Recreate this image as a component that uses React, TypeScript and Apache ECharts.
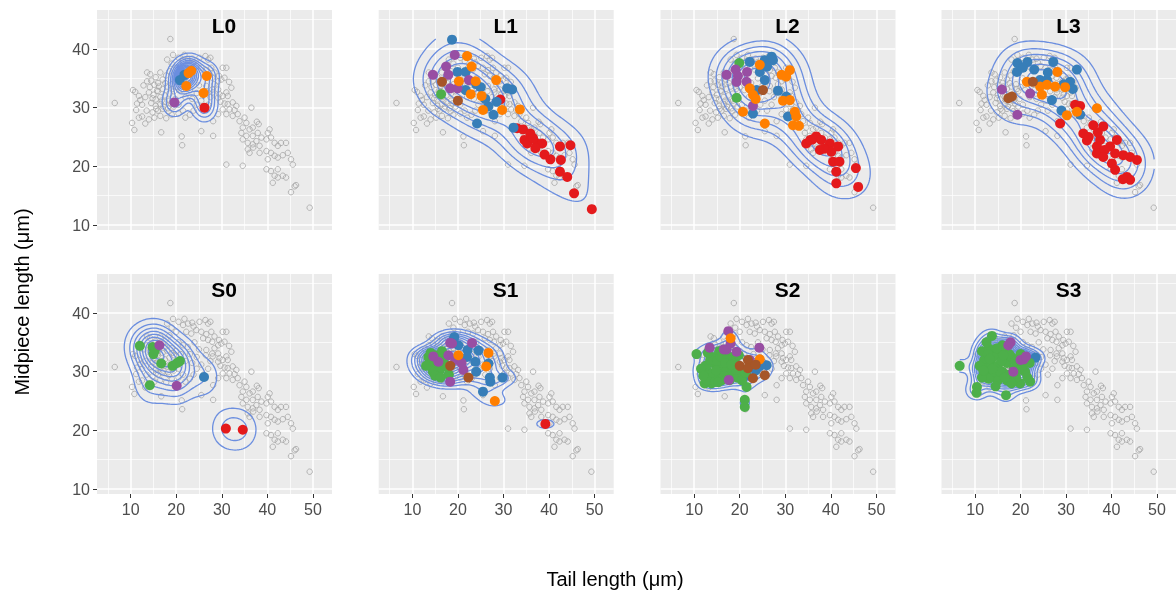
import React, { useEffect, useRef } from 'react';
import * as echarts from 'echarts';

// ---------- labels & scales ----------
const panelNames = ['L0', 'L1', 'L2', 'L3', 'S0', 'S1', 'S2', 'S3'];
const groupNames = ['Group 1', 'Group 2', 'Group 3', 'Group 4', 'Group 5', 'Group 6'];
const groupColors = ['#E41A1C', '#377EB8', '#4DAF4A', '#984EA3', '#FF7F00', '#A65628'];
const xTicks = [10, 20, 30, 40, 50];
const xMinorTicks = [5, 15, 25, 35, 45];
const yTicks = [10, 20, 30, 40];
const yMinorTicks = [15, 25, 35, 45];
const xTitle = 'Tail length (μm)';
const yTitle = 'Midpiece length (μm)';

// ---------- background points (all specimens) ----------
const greyPoints: number[][] = [
  [6.5, 30.8], [10.5, 33.0], [11.0, 32.7], [11.8, 32.0], [12.1, 31.3], [13.2, 31.8], [11.4, 30.7], [12.5, 30.5], [11.2, 29.6], [10.3, 27.4], [10.8, 26.2],
  [13.6, 36.0], [14.3, 35.7], [13.6, 34.5], [14.5, 34.6], [12.8, 33.8], [14.2, 33.5], [15.2, 33.9], [16.0, 34.2], [17.0, 34.8], [15.5, 35.2], [16.5, 36.0],
  [17.8, 35.5], [18.5, 36.2], [19.3, 39.0], [18.7, 41.7], [14.0, 32.6], [15.0, 32.2], [16.0, 32.8], [17.0, 33.2], [18.0, 33.6], [19.0, 34.0], [15.5, 31.4],
  [16.5, 31.8], [17.5, 32.1], [18.5, 32.4], [19.5, 32.8], [14.5, 30.8], [15.5, 30.3], [16.5, 30.6], [17.5, 31.0], [18.5, 31.2], [19.8, 31.5], [13.5, 29.5],
  [14.8, 29.2], [16.0, 29.5], [17.0, 29.8], [18.2, 29.9], [19.5, 30.2], [20.5, 30.5], [12.5, 28.5], [14.0, 28.0], [15.2, 28.3], [16.5, 28.6], [17.8, 28.2],
  [19.0, 28.8], [20.5, 29.0], [21.5, 29.5], [16.7, 25.8], [21.2, 25.1], [21.3, 23.6], [13.2, 27.3], [11.8, 28.3], [22.0, 28.3], [23.0, 28.8], [20.0, 33.5],
  [21.0, 33.0], [20.5, 35.0], [21.5, 34.5], [22.5, 34.2], [23.0, 33.0], [22.0, 31.8], [23.5, 31.5], [24.5, 32.5], [25.0, 33.8], [24.0, 35.0], [20.0, 36.8],
  [19.0, 37.5], [18.0, 38.2], [20.5, 38.5], [24.5, 30.5], [25.5, 31.2], [26.0, 29.5], [23.8, 29.5], [27.0, 30.5], [27.5, 31.8], [26.5, 32.8], [28.0, 32.6],
  [15.8, 32.9], [16.8, 31.2], [17.2, 30.2], [18.8, 30.7], [14.8, 31.6], [16.2, 33.6], [17.6, 34.2], [19.2, 33.2], [15.6, 29.8], [18.4, 29.4],
  [21.8, 39.0], [21.5, 37.95], [22.6, 38.2], [23.5, 38.35], [23.8, 37.7], [25.1, 38.5], [26.4, 38.8], [27.0, 38.2], [27.5, 38.5],
  [22.2, 36.8], [23.3, 36.5], [24.4, 37.1], [25.5, 36.8], [26.6, 36.4], [27.7, 36.8], [28.4, 36.0], [29.4, 35.4], [30.2, 36.8], [31.0, 36.8],
  [25.9, 35.7], [27.0, 35.4], [27.9, 35.1], [29.2, 34.5], [29.9, 34.8], [30.6, 35.1], [31.6, 34.4], [28.4, 34.0],
  [26.6, 33.7], [27.9, 33.1], [29.2, 33.1], [29.5, 32.3], [30.2, 32.0], [31.0, 32.6], [31.3, 32.0], [32.1, 33.4], [29.2, 31.7],
  [29.7, 31.0], [30.6, 30.7], [31.3, 30.6], [32.4, 30.9], [33.2, 30.3], [31.7, 29.7], [30.2, 29.7], [32.8, 29.6], [36.5, 30.0],
  [29.2, 28.9], [31.0, 28.9], [32.4, 28.6], [33.5, 28.9], [33.9, 27.7], [35.0, 28.3], [35.4, 27.4], [37.7, 27.6], [38.1, 27.2], [28.1, 27.7], [25.5, 26.0], [28.1, 25.2],
  [34.6, 26.6], [36.1, 26.3], [36.8, 26.6], [37.9, 25.7], [34.3, 25.7], [35.4, 25.2], [36.8, 25.2], [40.5, 26.3], [40.1, 25.7], [38.7, 24.9],
  [34.6, 24.6], [35.7, 24.0], [36.8, 23.75], [37.6, 24.3], [38.3, 23.5], [39.8, 24.6], [40.8, 24.9], [41.6, 24.0], [42.3, 23.5], [43.0, 24.0], [44.1, 24.0],
  [36.9, 23.2], [36.1, 22.3], [35.7, 22.9], [38.3, 22.3], [39.8, 22.6], [40.8, 22.3], [41.6, 21.8], [42.3, 21.5], [43.4, 21.9], [44.5, 22.3], [45.2, 21.2],
  [40.1, 21.2], [45.6, 20.3], [34.6, 20.1], [31.0, 20.3], [39.8, 19.5], [40.8, 19.2], [42.3, 19.5], [41.6, 18.4], [42.3, 18.1], [43.4, 18.4], [44.1, 18.1],
  [41.2, 17.2], [46.0, 16.6], [46.3, 16.8], [45.2, 15.6], [49.3, 12.95],
];

// ---------- coloured points per panel: [tail, midpiece, group] ----------
// group: 0 red, 1 blue, 2 green, 3 purple, 4 orange, 5 brown
const L0_points: number[][] = [
  [22.7, 35.9, 4], [23.3, 36.3, 4], [20.8, 34.7, 1], [21.8, 35.6, 1], [22.2, 33.7, 4], [26.7, 35.4, 4], [26.0, 32.5, 4], [19.6, 30.9, 3], [26.2, 30.0, 0],
];
const L1_points: number[][] = [
  [18.7, 41.6, 1], [19.9, 36.1, 1], [21.7, 36.1, 1], [25.0, 33.5, 1], [21.7, 33.0, 1], [30.8, 33.3, 1], [31.9, 33.1, 1], [26.7, 30.2, 1], [27.8, 28.8, 1],
  [24.2, 27.3, 1], [32.2, 26.6, 1], [24.0, 34.0, 1], [26.0, 31.5, 1], [28.5, 31.0, 1],
  [19.3, 39.0, 3], [17.4, 37.0, 3], [14.5, 35.6, 3], [18.3, 33.3, 3], [17.9, 35.6, 3], [19.9, 33.3, 3], [22.4, 34.7, 3],
  [22.0, 38.8, 4], [20.2, 34.5, 4], [23.0, 37.0, 4], [23.9, 34.5, 4], [22.8, 32.3, 4], [25.2, 32.0, 4], [28.4, 34.7, 4], [29.7, 29.6, 4], [25.5, 29.6, 4], [33.6, 29.7, 4],
  [16.5, 34.4, 5], [20.0, 31.2, 5], [16.3, 32.3, 2],
  [29.3, 31.4, 0], [34.3, 26.3, 0], [33.0, 26.5, 0], [34.6, 24.5, 0], [35.9, 25.6, 0], [37.4, 23.9, 0], [38.5, 23.9, 0], [37.0, 23.1, 0], [35.2, 23.9, 0],
  [40.3, 21.2, 0], [42.4, 23.4, 0], [44.7, 23.6, 0], [42.6, 21.1, 0], [42.4, 19.1, 0], [44.0, 18.2, 0], [45.5, 15.4, 0], [49.4, 12.7, 0], [36.5, 24.8, 0], [39.0, 22.0, 0],
];
const L2_points: number[][] = [
  [19.9, 37.6, 2], [19.3, 31.7, 2],
  [19.1, 36.5, 3], [17.1, 35.6, 3], [19.6, 35.4, 3], [21.6, 36.1, 3], [19.3, 34.4, 3], [21.5, 34.4, 3], [22.9, 30.3, 3],
  [22.2, 37.8, 1], [25.5, 38.1, 1], [27.0, 38.7, 1], [27.3, 38.1, 1], [24.4, 36.1, 1], [25.5, 34.7, 1], [23.7, 33.0, 1], [28.4, 32.9, 1], [30.2, 31.9, 1],
  [22.9, 29.0, 1], [30.6, 28.5, 1], [26.0, 37.0, 1],
  [24.4, 37.3, 4], [29.2, 35.6, 4], [31.0, 36.4, 4], [30.2, 35.3, 4], [22.2, 33.3, 4], [22.9, 32.2, 4], [29.5, 31.2, 4], [31.0, 31.3, 4], [32.1, 29.3, 4],
  [20.7, 29.3, 4], [25.5, 27.3, 4], [32.4, 28.5, 4], [31.7, 27.0, 4], [33.0, 26.9, 4], [23.5, 31.5, 4],
  [25.1, 33.0, 5],
  [34.6, 23.9, 0], [36.8, 25.1, 0], [36.0, 24.6, 0], [37.9, 24.5, 0], [37.6, 22.8, 0], [39.8, 23.9, 0], [41.6, 23.4, 0], [40.1, 22.5, 0], [40.5, 20.8, 0],
  [41.9, 20.8, 0], [41.2, 19.1, 0], [45.5, 19.7, 0], [41.2, 17.1, 0], [46.0, 16.5, 0], [38.5, 23.0, 0], [35.5, 24.5, 0],
];
const L3_points: number[][] = [
  [19.3, 37.6, 1], [21.5, 37.8, 1], [27.2, 37.8, 1], [32.4, 36.5, 1], [24.3, 34.7, 1], [25.8, 34.7, 1], [19.2, 36.1, 1], [30.9, 34.4, 1], [31.5, 33.2, 1],
  [26.9, 31.3, 1], [33.1, 28.8, 1], [29.0, 29.5, 1], [23.0, 36.5, 1], [29.5, 34.0, 1], [20.5, 36.8, 1], [26.0, 36.0, 1],
  [28.1, 36.1, 4], [21.4, 34.4, 4], [24.3, 33.6, 4], [25.8, 33.9, 4], [27.6, 33.6, 4], [29.8, 33.5, 4], [36.8, 29.9, 4], [32.4, 29.3, 4], [30.2, 28.7, 4], [24.7, 32.2, 4],
  [22.7, 34.4, 5], [17.3, 31.6, 5], [18.1, 31.9, 5],
  [15.9, 33.1, 3], [22.1, 32.4, 3], [19.3, 28.8, 3],
  [33.1, 30.3, 0], [28.7, 27.3, 0], [32.0, 30.5, 0], [33.8, 25.6, 0], [36.0, 27.0, 0], [38.2, 26.8, 0], [34.6, 24.4, 0], [36.8, 23.4, 0], [37.5, 24.5, 0],
  [39.7, 23.4, 0], [41.2, 24.5, 0], [36.8, 22.2, 0], [38.5, 22.8, 0], [38.2, 21.6, 0], [40.8, 22.2, 0], [42.6, 21.9, 0], [44.1, 21.6, 0], [45.6, 21.1, 0],
  [40.1, 20.5, 0], [40.8, 19.4, 0], [43.4, 18.2, 0], [44.1, 17.7, 0], [42.5, 17.8, 0], [35.0, 25.0, 0], [37.0, 25.8, 0],
];
const S0_points: number[][] = [
  [12.0, 34.4, 2], [14.8, 34.2, 2], [15.3, 33.6, 2], [16.7, 31.4, 2], [19.2, 31.0, 2], [20.2, 31.5, 2], [20.8, 31.8, 2], [14.2, 27.7, 2], [15.0, 33.0, 2],
  [16.3, 34.5, 3], [20.1, 27.6, 3], [26.1, 29.1, 1], [30.9, 20.3, 0], [34.6, 20.1, 0],
];
const S1_points: number[][] = [
  [13.5, 32.5, 2], [14.2, 31.5, 2], [15.0, 32.8, 2], [15.5, 31.0, 2], [16.0, 30.2, 2], [14.5, 30.0, 2], [16.8, 32.0, 2], [17.5, 30.8, 2], [18.0, 29.5, 2],
  [13.0, 31.0, 2], [16.5, 33.5, 2], [15.0, 29.3, 2], [14.0, 33.2, 2], [16.2, 29.0, 2],
  [14.6, 32.6, 3], [15.7, 31.7, 3], [17.9, 32.8, 3], [19.4, 32.0, 3], [21.2, 30.3, 3], [18.3, 28.3, 3], [18.7, 34.8, 3], [18.3, 34.9, 3], [23.1, 34.9, 3], [20.8, 31.5, 3],
  [18.3, 31.0, 5], [22.3, 29.0, 5],
  [20.1, 32.8, 4], [26.7, 33.2, 4], [26.2, 30.9, 4], [28.1, 25.0, 4],
  [19.2, 35.9, 1], [20.1, 34.5, 1], [22.1, 33.7, 1], [24.5, 33.6, 1], [23.8, 31.7, 1], [26.7, 31.4, 1], [27.1, 28.3, 1], [25.5, 26.6, 1], [29.8, 29.0, 1],
  [19.0, 35.4, 1], [20.5, 32.0, 1], [27.0, 29.0, 1], [24.0, 30.0, 1], [22.0, 32.5, 1],
  [39.2, 21.1, 0],
];
const S2_points: number[][] = [
  [10.5, 33.0, 2], [12.3, 28.0, 2], [13.8, 28.0, 2], [21.1, 25.2, 2], [21.1, 24.0, 2], [21.5, 27.4, 2], [14.0, 31.5, 2], [14.5, 32.5, 2], [15.0, 30.5, 2],
  [15.5, 29.5, 2], [16.0, 31.0, 2], [16.5, 32.0, 2], [17.0, 30.0, 2], [17.5, 31.5, 2], [18.0, 29.5, 2], [18.5, 30.5, 2], [19.0, 31.5, 2], [19.5, 29.0, 2],
  [13.0, 30.0, 2], [12.5, 31.0, 2], [14.0, 29.0, 2], [16.0, 28.5, 2], [17.0, 33.0, 2], [15.5, 33.5, 2], [18.5, 32.5, 2], [20.0, 30.0, 2], [20.5, 28.5, 2],
  [13.5, 32.0, 2], [16.5, 29.3, 2], [15.0, 31.8, 2], [17.8, 28.6, 2], [12.8, 28.5, 2], [14.6, 28.3, 2], [11.5, 30.5, 2], [13.0, 33.2, 2], [15.8, 32.6, 2],
  [17.2, 32.3, 2], [19.8, 32.8, 2], [19.2, 30.3, 2], [16.8, 31.5, 2], [14.8, 30.2, 2], [18.2, 31.2, 2], [21.3, 29.8, 2], [12.0, 29.3, 2], [15.3, 28.2, 2],
  [17.5, 36.9, 3], [13.4, 34.1, 3], [24.3, 34.1, 3], [17.1, 33.8, 3], [19.3, 33.4, 3], [17.6, 28.6, 3], [22.2, 32.0, 3], [18.0, 34.8, 3], [16.5, 33.8, 3],
  [18.0, 35.7, 4], [24.4, 32.1, 4],
  [21.8, 32.0, 5], [20.0, 31.0, 5], [22.9, 28.9, 5], [25.5, 29.4, 5], [21.8, 30.6, 5], [23.5, 31.2, 5],
  [25.9, 31.1, 1], [21.5, 29.4, 1], [23.5, 30.2, 1], [24.5, 31.0, 1],
];
const S3_points: number[][] = [
  [6.6, 31.0, 2], [13.7, 36.1, 2], [10.4, 27.4, 2], [10.3, 26.4, 2], [16.8, 26.0, 2], [19.9, 28.0, 2], [22.1, 28.3, 2],
  [11.5, 33.5, 2], [12.0, 32.0, 2], [12.5, 30.5, 2], [13.0, 34.0, 2], [13.5, 31.5, 2], [14.0, 29.5, 2], [14.5, 33.0, 2], [15.0, 31.0, 2], [15.5, 32.5, 2],
  [15.0, 28.5, 2], [16.0, 30.0, 2], [16.5, 33.5, 2], [17.0, 31.5, 2], [17.5, 29.5, 2], [18.0, 32.5, 2], [18.5, 30.5, 2], [19.0, 29.0, 2], [19.5, 31.5, 2],
  [20.0, 33.0, 2], [21.0, 30.0, 2], [12.0, 29.5, 2], [13.0, 28.8, 2], [14.0, 32.5, 2], [16.0, 34.5, 2], [11.0, 31.0, 2], [11.5, 29.0, 2], [15.5, 30.0, 2],
  [17.0, 28.5, 2], [20.5, 31.0, 2], [22.0, 31.5, 2], [12.5, 35.0, 2], [18.0, 28.0, 2], [14.5, 27.5, 2], [12.8, 33.0, 2], [13.8, 30.5, 2], [14.8, 34.0, 2],
  [15.8, 31.8, 2], [16.5, 29.0, 2], [17.5, 33.0, 2], [18.8, 31.8, 2], [19.5, 30.2, 2], [21.5, 29.0, 2], [11.8, 30.2, 2], [13.2, 32.2, 2], [16.2, 32.8, 2],
  [17.3, 34.5, 3], [17.8, 35.0, 3], [20.0, 32.0, 3], [20.7, 32.1, 3], [18.4, 30.0, 3], [21.2, 32.6, 3],
  [23.3, 32.4, 1],
];
const panelPoints = [L0_points, L1_points, L2_points, L3_points, S0_points, S1_points, S2_points, S3_points];

// ---------- layout ----------
const X_MIN = 2.6, X_MAX = 54.2, Y_MIN = 9.15, Y_MAX = 46.65;
const PANEL_LEFT = [97, 378.7, 660.5, 941.5];
const PANEL_TOP = [10, 274];
const PANEL_W = 235, PANEL_H = 220;
const FONT = '"Liberation Sans", Arial, Helvetica, sans-serif';
const CONTOUR_COLOR = '#6B8EDF';

// ---------- 2D kernel density (MASS::kde2d style) + contouring ----------
function bandwidthNrd(v: number[]): number {
  const n = v.length;
  const mean = v.reduce((a, b) => a + b, 0) / n;
  const sd = Math.sqrt(v.reduce((a, b) => a + (b - mean) * (b - mean), 0) / (n - 1));
  const s = [...v].sort((a, b) => a - b);
  const q = (p: number) => {
    const h = (n - 1) * p;
    const lo = Math.floor(h);
    return s[lo] + (h - lo) * (s[Math.min(lo + 1, n - 1)] - s[lo]);
  };
  const r = (q(0.75) - q(0.25)) / 1.34;
  const m = r > 0 ? Math.min(sd, r) : sd;
  return 4 * 1.06 * m * Math.pow(n, -0.2);
}

function kde2d(pts: number[][], lims: number[], n = 100) {
  const xs = pts.map((p) => p[0]);
  const ys = pts.map((p) => p[1]);
  const hx = bandwidthNrd(xs) / 4;
  const hy = bandwidthNrd(ys) / 4;
  const gx: number[] = [];
  const gy: number[] = [];
  for (let i = 0; i < n; i++) {
    gx.push(lims[0] + ((lims[1] - lims[0]) * i) / (n - 1));
    gy.push(lims[2] + ((lims[3] - lims[2]) * i) / (n - 1));
  }
  const dn = (d: number, h: number) => Math.exp(-0.5 * (d / h) * (d / h)) / (h * Math.sqrt(2 * Math.PI));
  const ax = gx.map((g) => xs.map((x) => dn(g - x, hx)));
  const ay = gy.map((g) => ys.map((y) => dn(g - y, hy)));
  const z: number[][] = [];
  for (let i = 0; i < n; i++) {
    const row: number[] = [];
    for (let j = 0; j < n; j++) {
      let s = 0;
      for (let k = 0; k < xs.length; k++) s += ax[i][k] * ay[j][k];
      row.push(s / xs.length);
    }
    z.push(row);
  }
  return { gx, gy, z };
}

function prettyUnit(dx: number, n = 10): number {
  const cell = dx / n;
  const U = Math.pow(10, Math.floor(Math.log10(cell)));
  let unit = U;
  const h = 1.5, h5 = 0.5 + 1.5 * h;
  if (2 * U - cell < h * (cell - unit)) {
    unit = 2 * U;
    if (5 * U - cell < h5 * (cell - unit)) {
      unit = 5 * U;
      if (10 * U - cell < h * (cell - unit)) unit = 10 * U;
    }
  }
  return unit;
}

function isolines(gx: number[], gy: number[], z: number[][], lv: number): number[][][] {
  const pt = new Map<string, number[]>();
  const adj = new Map<string, string[]>();
  const link = (a: string, b: string) => {
    if (!adj.has(a)) adj.set(a, []);
    if (!adj.has(b)) adj.set(b, []);
    adj.get(a)!.push(b);
    adj.get(b)!.push(a);
  };
  const ep = (key: string, x1: number, y1: number, v1: number, x2: number, y2: number, v2: number) => {
    if (!pt.has(key)) {
      const t = (lv - v1) / (v2 - v1);
      pt.set(key, [x1 + t * (x2 - x1), y1 + t * (y2 - y1)]);
    }
    return key;
  };
  for (let i = 0; i < gx.length - 1; i++) {
    for (let j = 0; j < gy.length - 1; j++) {
      const v00 = z[i][j], v10 = z[i + 1][j], v11 = z[i + 1][j + 1], v01 = z[i][j + 1];
      const a00 = v00 >= lv, a10 = v10 >= lv, a11 = v11 >= lv, a01 = v01 >= lv;
      const B = a00 !== a10 ? ep(`h${i}_${j}`, gx[i], gy[j], v00, gx[i + 1], gy[j], v10) : null;
      const T = a01 !== a11 ? ep(`h${i}_${j + 1}`, gx[i], gy[j + 1], v01, gx[i + 1], gy[j + 1], v11) : null;
      const L = a00 !== a01 ? ep(`v${i}_${j}`, gx[i], gy[j], v00, gx[i], gy[j + 1], v01) : null;
      const R = a10 !== a11 ? ep(`v${i + 1}_${j}`, gx[i + 1], gy[j], v10, gx[i + 1], gy[j + 1], v11) : null;
      const list = [B, R, T, L].filter((k) => k !== null) as string[];
      if (list.length === 2) link(list[0], list[1]);
      else if (list.length === 4) {
        const c = (v00 + v10 + v11 + v01) / 4 >= lv;
        if (a00 !== c) link(B!, L!);
        if (a10 !== c) link(B!, R!);
        if (a11 !== c) link(R!, T!);
        if (a01 !== c) link(T!, L!);
      }
    }
  }
  const used = new Set<string>();
  const walk = (start: string) => {
    const path = [start];
    used.add(start);
    let cur = start;
    for (;;) {
      const nb = adj.get(cur)!.find((k) => !used.has(k));
      if (!nb) break;
      used.add(nb);
      path.push(nb);
      cur = nb;
    }
    return path;
  };
  const lines: string[][] = [];
  adj.forEach((nbs, k) => {
    if (nbs.length === 1 && !used.has(k)) lines.push(walk(k));
  });
  adj.forEach((_nbs, k) => {
    if (!used.has(k)) {
      const p = walk(k);
      p.push(p[0]);
      lines.push(p);
    }
  });
  return lines.map((l) => l.map((k) => pt.get(k)!));
}

function contourData(pts: number[][], lims: number[]) {
  const { gx, gy, z } = kde2d(pts, lims, 100);
  let zmin = Infinity, zmax = -Infinity;
  z.forEach((r) => r.forEach((v) => { if (v < zmin) zmin = v; if (v > zmax) zmax = v; }));
  const unit = prettyUnit(zmax - zmin, 10);
  const out: any[] = [];
  for (let lv = Math.floor(zmin / unit) * unit + unit; lv < zmax; lv += unit) {
    isolines(gx, gy, z, lv).forEach((line) => {
      line.forEach((p) => out.push(p));
      out.push(['-', '-']);
    });
  }
  return out;
}

function buildOption() {
  const all = greyPoints.concat(...panelPoints);
  const lims = [
    Math.min(...all.map((p) => p[0])), Math.max(...all.map((p) => p[0])),
    Math.min(...all.map((p) => p[1])), Math.max(...all.map((p) => p[1])),
  ];
  const grid: any[] = [], xAxis: any[] = [], yAxis: any[] = [], series: any[] = [], graphic: any[] = [];
  panelNames.forEach((name, p) => {
    const r = Math.floor(p / 4), c = p % 4;
    grid.push({
      left: PANEL_LEFT[c], top: PANEL_TOP[r], width: PANEL_W, height: PANEL_H,
      show: true, backgroundColor: '#EBEBEB', borderWidth: 0, borderColor: 'transparent',
    });
    const major = (ticks: number[], showLab: boolean, min: number, max: number) => ({
      gridIndex: p, type: 'value', min, max,
      axisLine: { show: false },
      axisTick: { show: showLab, length: 4, customValues: ticks, lineStyle: { color: '#333333', width: 1 } },
      axisLabel: { show: showLab, customValues: ticks, color: '#4D4D4D', fontSize: 16, fontFamily: FONT, margin: 7 },
      splitLine: { show: true, lineStyle: { color: '#FFFFFF', width: 1.5 } },
    });
    const minor = (ticks: number[], min: number, max: number) => ({
      gridIndex: p, type: 'value', min, max,
      axisLine: { show: false },
      axisTick: { show: false, customValues: ticks },
      axisLabel: { show: false, customValues: ticks },
      splitLine: { show: true, lineStyle: { color: '#FFFFFF', width: 0.7 } },
    });
    xAxis.push(major(xTicks, r === 1, X_MIN, X_MAX), { ...minor(xMinorTicks, X_MIN, X_MAX), position: 'bottom' });
    yAxis.push(major(yTicks, c === 0, Y_MIN, Y_MAX), { ...minor(yMinorTicks, Y_MIN, Y_MAX), position: 'left' });
    const xi = 2 * p, yi = 2 * p;
    series.push({
      type: 'scatter', name: 'all', xAxisIndex: xi, yAxisIndex: yi, silent: true, z: 2,
      symbol: 'circle', symbolSize: 5.5, data: greyPoints,
      itemStyle: { color: 'rgba(255,255,255,0)', borderColor: '#A6A6A6', borderWidth: 1 },
    });
    series.push({
      type: 'line', name: 'density', xAxisIndex: xi, yAxisIndex: yi, silent: true, z: 3,
      symbol: 'none', showSymbol: false, connectNulls: false,
      data: contourData(panelPoints[p], lims),
      lineStyle: { color: CONTOUR_COLOR, width: 1.3 },
    });
    groupNames.forEach((g, gi) => {
      const d = panelPoints[p].filter((q) => q[2] === gi).map((q) => [q[0], q[1]]);
      if (!d.length) return;
      series.push({
        type: 'scatter', name: g, xAxisIndex: xi, yAxisIndex: yi, silent: true, z: 5,
        symbol: 'circle', symbolSize: 10, data: d,
        itemStyle: { color: groupColors[gi], opacity: 1 },
      });
    });
    graphic.push({
      type: 'text', x: PANEL_LEFT[c] + 127, y: PANEL_TOP[r] + 15, silent: true, z: 100,
      style: { text: name, fontSize: 21, fontWeight: 'bold', fontFamily: FONT, fill: '#000', align: 'center', verticalAlign: 'middle' },
    });
  });
  graphic.push({
    type: 'text', x: 22, y: 302, rotation: Math.PI / 2, silent: true, z: 100,
    style: { text: yTitle, fontSize: 20, fontFamily: FONT, fill: '#000', align: 'center', verticalAlign: 'middle' },
  });
  graphic.push({
    type: 'text', x: 615, y: 579, silent: true, z: 100,
    style: { text: xTitle, fontSize: 20, fontFamily: FONT, fill: '#000', align: 'center', verticalAlign: 'middle' },
  });
  return { animation: false, grid, xAxis, yAxis, series, graphic };
}

export default function App() {
  const ref = useRef<HTMLDivElement>(null);
  useEffect(() => {
    const chart = echarts.init(ref.current!, null, { renderer: 'svg' });
    chart.setOption(buildOption());
    return () => chart.dispose();
  }, []);
  return <div ref={ref} style={{ position: 'fixed', left: 0, top: 0, width: 1176, height: 599 }} />;
}
